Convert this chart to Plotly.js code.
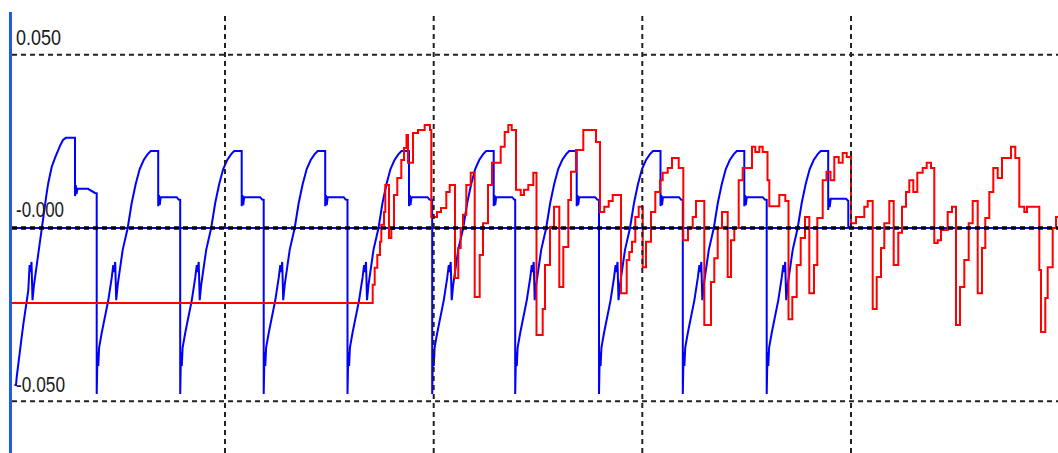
<!DOCTYPE html>
<html><head><meta charset="utf-8">
<script src="https://cdn.plot.ly/plotly-3.0.1.min.js"></script>
<style>html,body{margin:0;padding:0;background:#fff;overflow:hidden}#chart{width:1058px;height:453px}</style>
</head><body><div id="chart"></div>
<script>
// time in samples, values in units of 1e-3
const blueT = [
 [14.5,16,16.7,18.3,20,21.7,23.3,25,26.7,28.3,29.6,30.5,31.5,32.5,34,37,41.7,43.3,45,46.7,48.3,50,51.7,55,56.7,60,63,66,75,75,75.8,76.5,77.5,88,95],
 [96.7,96.7,97.5,98.3,99.1,101.7,105,108.3,111.7,113.3,114.2,115.2,116.2,117.7,122.7,127.7,131.7,135.7,139.7,143.7,147.7,150.7,158.2,158.2,159,159.7,160.7,176.7,178.7],
 [180.2,180.2,181,181.8,182.6,185.2,188.5,191.8,195.2,196.8,197.7,198.7,199.7,201.2,206.2,211.2,215.2,219.2,223.2,227.2,231.2,234.2,241.7,241.7,242.5,243.2,244.2,260.2,262.2],
 [263.7,263.7,264.5,265.3,266.1,268.7,272,275.3,278.7,280.3,281.2,282.2,283.2,284.7,289.7,294.7,298.7,302.7,306.7,310.7,314.7,317.7,325.2,325.2,326,326.7,327.7,343.7,345.7],
 [347.5,347.5,348.3,349.1,349.9,352.5,355.8,359.1,362.5,364.1,365,366,367,368.5,373.5,378.5,382.5,386.5,390.5,394.5,398.5,401.5,409,409,409.8,410.5,411.5,427.5,429.5],
 [432.2,432.2,433,433.8,434.6,437.2,440.5,443.8,447.2,448.8,449.7,450.7,451.7,453.2,458.2,463.2,467.2,471.2,475.2,479.2,483.2,486.2,493.7,493.7,494.5,495.2,496.2,512.2,514.2],
 [515.2,515.2,516,516.8,517.6,520.2,523.5,526.8,530.2,531.8,532.7,533.7,534.7,536.2,541.2,546.2,550.2,554.2,558.2,562.2,566.2,569.2,576.7,576.7,577.5,578.2,579.2,595.2,597.2],
 [599,599,599.8,600.6,601.4,604,607.3,610.6,614,615.6,616.5,617.5,618.5,620,625,630,634,638,642,646,650,653,660.5,660.5,661.3,662,663,679,681],
 [682.8,682.8,683.6,684.4,685.2,687.8,691.1,694.4,697.8,699.4,700.3,701.3,702.3,703.8,708.8,713.8,717.8,721.8,725.8,729.8,733.8,736.8,744.3,744.3,745.1,745.8,746.8,762.8,764.8],
 [766.7,766.7,767.5,768.3,769.1,771.7,775,778.3,781.7,783.3,784.2,785.2,786.2,787.7,792.7,797.7,801.7,805.7,809.7,813.7,817.7,820.7,828.2,828.2,829,829.7,830.7,846,848.3,848.3,1058]
].flat();
const blueV = [
 [-45.3,-45.3,-43.0,-38.7,-34.6,-31.4,-27.9,-24.5,-21.6,-17.9,-10.7,-12.7,-9.8,-20.8,-16.4,-9.8,0,3.2,7.2,10.1,13.0,15.3,17.6,20.2,21.6,23.7,25.4,26.0,26.0,9.2,12.4,9.8,11.3,11.3,10.1],
 [10.0,-47.9,-35.8,-39.8,-34.6,-30.3,-25.7,-20.8,-14.4,-10.7,-12.7,-9.8,-20.8,-16.4,-6.3,0,7.2,12.7,17.0,19.6,21.3,22.2,22.2,6.3,9.5,6.6,8.9,8.9,8.2],
 [8.1,-47.9,-35.8,-39.8,-34.6,-30.3,-25.7,-20.8,-14.4,-10.7,-12.7,-9.8,-20.8,-16.4,-6.3,0,7.2,12.7,17.0,19.6,21.3,22.2,22.2,6.3,9.5,6.6,8.9,8.9,8.2],
 [8.1,-47.9,-35.8,-39.8,-34.6,-30.3,-25.7,-20.8,-14.4,-10.7,-12.7,-9.8,-20.8,-16.4,-6.3,0,7.2,12.7,17.0,19.6,21.3,22.2,22.2,6.3,9.5,6.6,8.9,8.9,8.2],
 [8.1,-47.9,-35.8,-39.8,-34.6,-30.3,-25.7,-20.8,-14.4,-10.7,-12.7,-9.8,-20.8,-16.4,-6.3,0,7.2,12.7,17.0,19.6,21.3,22.2,22.2,6.3,9.5,6.6,8.9,8.9,8.2],
 [8.1,-47.9,-35.8,-39.8,-34.6,-30.3,-25.7,-20.8,-14.4,-10.7,-12.7,-9.8,-20.8,-16.4,-6.3,0,7.2,12.7,17.0,19.6,21.3,22.2,22.2,6.3,9.5,6.6,8.9,8.9,8.2],
 [8.1,-47.9,-35.8,-39.8,-34.6,-30.3,-25.7,-20.8,-14.4,-10.7,-12.7,-9.8,-20.8,-16.4,-6.3,0,7.2,12.7,17.0,19.6,21.3,22.2,22.2,6.3,9.5,6.6,8.9,8.9,8.2],
 [8.1,-47.9,-35.8,-39.8,-34.6,-30.3,-25.7,-20.8,-14.4,-10.7,-12.7,-9.8,-20.8,-16.4,-6.3,0,7.2,12.7,17.0,19.6,21.3,22.2,22.2,6.3,9.5,6.6,8.9,8.9,8.2],
 [8.1,-47.9,-35.8,-39.8,-34.6,-30.3,-25.7,-20.8,-14.4,-10.7,-12.7,-9.8,-20.8,-16.4,-6.3,0,7.2,12.7,17.0,19.6,21.3,22.2,22.2,6.3,9.5,6.6,8.9,8.9,8.2],
 [8.1,-47.9,-35.8,-39.8,-34.6,-30.3,-25.7,-20.8,-14.4,-10.7,-12.7,-9.8,-20.8,-16.4,-6.3,0,7.2,12.7,17.0,19.6,21.3,22.2,22.2,5.2,8.5,6.0,8.4,8.4,7.8,0,0]
].flat();

const redT = [12,372.7,374.7,377.3,380,381.3,384,385.3,389,391.3,394,397.3,401.3,404,406.5,408,413,418,424.7,430,
 431.3,437,441,446.3,449.7,455,458.3,460.7,463,466.3,470.7,474.7,479.7,483,488,492,500.7,504.7,508.3,511.7,
 516,520.7,524,528.3,533.3,536.5,542.7,545,550,554,559.3,563.3,568.3,571,576,583.3,596,600,604.3,608.7,
 612.7,621,626.7,629.3,632,635.3,638.7,642.7,646,651,655.3,660,662.7,667.7,672,678.7,683.3,688,692.7,696,
 704.3,711,714.3,717.7,722,727.7,731,734.3,738.7,742.7,752,755.3,759.3,762.7,767.5,769.3,779.3,785.3,788.5,792.3,
 796.7,800.7,805,809.3,814,817.3,822.7,826.5,830.5,834.3,838.7,842.7,846.7,851,856,864.3,867.7,872.7,876.7,881,
 884.3,889.3,893.7,898.3,902,906,909.3,913.3,917.3,922.7,926.7,931,934.3,937.7,941,947.7,952,956,960,964.3,
 968.7,972.7,977.7,982,985.3,989.3,993.3,997.7,1002,1011,1015.3,1019.3,1024.3,1027,1039.3,1041,1045.3,1047.7,1052.7,1056,1058];
const redV = [-21.6,-16.4,-11.5,-7.8,-4.0,0.9,4.6,12.4,-2.9,-0.3,9.5,14.4,19.6,23.1,26.8,18.8,27.4,28.3,29.7,28.3,
 3.2,4.6,5.8,10.4,12.4,-14.4,-5.8,0,3.8,12.4,15.9,-19.9,-7.8,1.4,12.4,18.8,23.4,27.7,29.7,28.3,
 11.0,9.5,11.0,12.4,15.9,-30.9,-23.4,-10.7,0.3,6.1,-17.0,-5.5,8.1,16.2,22.5,28.3,24.8,4.6,6.1,7.8,
 9.5,-18.8,-9.2,-6.9,-4.0,3.2,6.1,-11.3,-4.0,4.6,10.4,13.8,15.9,17.3,20.2,17.3,-3.5,0,3.2,7.8,
 -28.0,-15.6,-8.7,0,4.6,-14.1,-3.5,0,13.8,17.3,23.4,21.9,23.4,21.9,13.8,6.3,9.5,7.8,-26.3,-19.9,
 -10.7,-2.9,3.2,-18.8,-10.7,2.9,13.8,16.2,13.8,20.5,18.8,21.6,20.5,1.4,3.2,6.1,7.8,-23.4,-14.1,-5.8,
 1.4,7.8,-10.7,-1.4,6.1,10.4,13.8,10.4,15.9,17.3,18.8,17.3,-4.3,-3.5,-0.6,4.6,6.1,-28.0,-17.0,-9.2,
 1.4,7.8,-18.8,-5.8,2.9,10.4,17.3,14.4,20.2,23.4,20.2,6.1,4.6,6.1,-12.1,-30.0,-20.2,-11.3,0,3.2,3.2];

const gridTimes = [225, 433.7, 642.3, 851];
const gridLevels = [50, -50];
const labelLevels = [55, 5.2, -45.2];
const labelTexts = ['0.050', '-0.000', '-0.050'];
const labelWidths = [45, 48, 49];

const dashed = {color:'#222', width:2, dash:'5px,4px'};
const shapes = [
  {type:'line', xref:'paper', yref:'y', x0:0, x1:1, y0:0, y1:0, line:{color:'#0000ff', width:1.8}, layer:'below'},
  ...gridTimes.map(t => ({type:'line', xref:'x', yref:'paper', x0:t, x1:t, y0:0, y1:1, line:dashed, layer:'above'})),
  ...gridLevels.map(v => ({type:'line', xref:'paper', yref:'y', x0:0, x1:1, y0:v, y1:v, line:dashed, layer:'above'})),
  {type:'line', xref:'paper', yref:'y', x0:0, x1:1, y0:0, y1:0, line:{color:'#000', width:3.5, dash:'5px,4px'}, layer:'above'}
];
const annotations = labelTexts.map((s, i) => ({
  text: s, xref:'paper', yref:'y', x:0, y:labelLevels[i], xanchor:'left', yanchor:'middle',
  xshift:1, showarrow:false,
  font:{family:'"Liberation Sans", Arial, sans-serif', size:22, color:'#1a1a1a'}
}));

const traces = [
  {type:'scatter', mode:'lines', x:blueT, y:blueV, line:{color:'#0000ff', width:2}, hoverinfo:'skip'},
  {type:'scatter', mode:'lines', x:redT, y:redV, line:{color:'#ff0000', width:2, shape:'hv'}, hoverinfo:'skip'}
];
const layout = {
  width:1058, height:453,
  margin:{l:12, r:0, t:12, b:0, pad:0},
  paper_bgcolor:'#fff', plot_bgcolor:'#fff', showlegend:false,
  xaxis:{range:[12,1058], showgrid:false, zeroline:false, showticklabels:false, ticks:'', showline:false},
  yaxis:{range:[-64.9,62.3], showgrid:false, zeroline:false, showticklabels:false, ticks:'', showline:true, linecolor:'#1b5fe0', linewidth:3},
  shapes: shapes, annotations: annotations
};
Plotly.newPlot('chart', traces, layout, {displayModeBar:false, staticPlot:true}).then(gd => {
  // condense the label glyphs horizontally to match the narrow scope font, keeping the left edge
  gd.querySelectorAll('.annotation-text').forEach(el => {
    const i = labelTexts.indexOf(el.textContent);
    if (i >= 0) {
      const w0 = el.getComputedTextLength();
      el.setAttribute('textLength', labelWidths[i]);
      el.setAttribute('lengthAdjust', 'spacingAndGlyphs');
      el.setAttribute('transform', 'translate(' + (-(w0 - labelWidths[i]) / 2 + 1) + ',0)');
    }
  });
});
</script>
</body></html>
